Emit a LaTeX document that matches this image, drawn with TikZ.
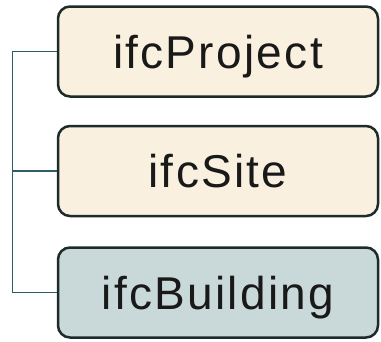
\documentclass[tikz,border=0pt]{standalone}
\usepackage{fontspec}
\setmainfont[LetterSpace=5]{Liberation Sans}
\definecolor{cream}{HTML}{F9F0DF}
\definecolor{bldg}{HTML}{C9D8D8}
\definecolor{edge}{HTML}{1E2B2B}
\definecolor{conn}{HTML}{2E5D63}
\begin{document}
\begin{tikzpicture}[x=1pt,y=1pt,
  ent/.style={draw=edge, line width=2.5pt, rounded corners=12pt, fill=cream,
    minimum width=320pt, minimum height=90pt, inner sep=0pt,
    text height=33pt, text depth=0pt, font=\fontsize{46}{50}\selectfont, text=black!90},
  link/.style={draw=conn, line width=1.5pt}]
\useasboundingbox (0,0) rectangle (381,-341);
\node[ent] (p) at (218,-51.5) {ifcProject};
\node[ent] (s) at (218,-171) {ifcSite};
\node[ent, fill=bldg] (b) at (218,-292.5) {ifcBuilding};
\coordinate (t) at (12.5,0);
\draw[link] (p.west) -- (p.west -| t) |- (b.west);
\draw[link] (s.west) -- (s.west -| t);
\end{tikzpicture}
\end{document}
